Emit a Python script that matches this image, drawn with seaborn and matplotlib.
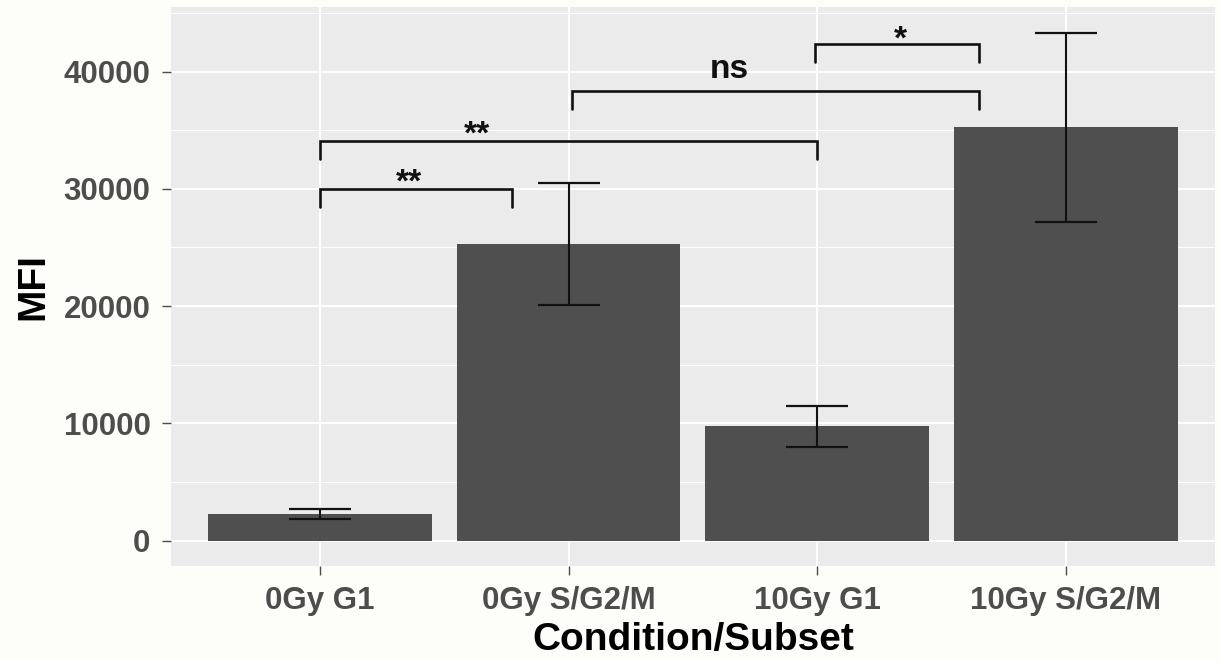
import matplotlib
matplotlib.use("Agg")
import matplotlib.pyplot as plt
from matplotlib.ticker import MultipleLocator
import numpy as np
import pandas as pd
import seaborn as sns

# Mean fluorescence intensity per condition/subset, with standard error
conditions = ["0Gy G1", "0Gy S/G2/M", "10Gy G1", "10Gy S/G2/M"]
mfi_mean = [2300, 25330, 9770, 35250]
mfi_sem = [430, 5200, 1745, 8070]

# Significance brackets (x in category units, y in MFI units)
bracket_left = [0.0, 0.0, 1.015, 1.993]
bracket_right = [0.772, 2.0, 2.651, 2.651]
bracket_top = [30000, 34100, 38370, 42340]
bracket_drop = 1550
sig_labels = ["**", "**", "ns", "*"]
sig_label_x = [0.36, 0.633, 1.648, 2.333]
sig_label_y = [29760, 33850, 39440, 41930]

y_ticks = [0, 10000, 20000, 30000, 40000]

df = pd.DataFrame({"Condition/Subset": conditions, "MFI": mfi_mean, "sem": mfi_sem})

sns.set_theme(style="darkgrid", rc={
    "axes.facecolor": "#EBEBEB",
    "figure.facecolor": "#FDFDF9",
    "grid.color": "white",
    "axes.edgecolor": "none",
})
plt.rcParams["font.family"] = ["Liberation Sans", "DejaVu Sans"]

fig = plt.figure(figsize=(12.2, 6.61), dpi=100)
ax = fig.add_axes([0.1399, 0.1437, 0.8560, 0.8453])

sns.barplot(data=df, x="Condition/Subset", y="MFI", color="#4F4F4F",
            saturation=1, width=0.9, errorbar=None, linewidth=0,
            edgecolor="none", ax=ax, zorder=2)

xpos = np.arange(len(conditions))
ax.errorbar(xpos, df["MFI"], yerr=df["sem"], fmt="none", ecolor="#111111",
            elinewidth=1.5, capsize=22.3, capthick=1.6, zorder=3)

for xl, xr, yt, lab, lx, ly in zip(bracket_left, bracket_right, bracket_top,
                                   sig_labels, sig_label_x, sig_label_y):
    ax.plot([xl, xl, xr, xr], [yt - bracket_drop, yt, yt, yt - bracket_drop],
            color="#111111", lw=1.9, solid_joinstyle="miter", zorder=4)
    ax.text(lx, ly, lab, ha="center", va="baseline", fontsize=24,
            fontweight="bold", color="#111111", zorder=5)

ymax = max(m + s for m, s in zip(mfi_mean, mfi_sem))
ax.set_ylim(-0.05 * ymax, 1.05 * ymax)
ax.set_xlim(-0.6, len(conditions) - 0.4)

ax.set_yticks(y_ticks)
ax.yaxis.set_minor_locator(MultipleLocator(5000))
ax.grid(which="major", color="white", linewidth=1.5)
ax.grid(which="minor", axis="y", color="white", linewidth=0.75)
ax.set_axisbelow(True)

ax.tick_params(axis="both", which="major", length=6.5, width=1.0,
               color="#4D4D4D", labelsize=22.5, labelcolor="#4D4D4D", pad=8,
               left=True, bottom=True, direction="out")
ax.tick_params(axis="both", which="minor", length=0)
for lab in ax.get_xticklabels() + ax.get_yticklabels():
    lab.set_fontweight("bold")

ax.set_xlabel("Condition/Subset", fontsize=28, fontweight="bold", color="black",
              va="baseline")
ax.set_ylabel("MFI", fontsize=28, fontweight="bold", color="black",
              va="baseline", rotation_mode="anchor")
ax.xaxis.set_label_coords(0.5, -0.1503)
ax.yaxis.set_label_coords(-0.1223, 0.5)

for s in ax.spines.values():
    s.set_visible(False)

fig.savefig("out.png", dpi=100, facecolor=fig.get_facecolor())
